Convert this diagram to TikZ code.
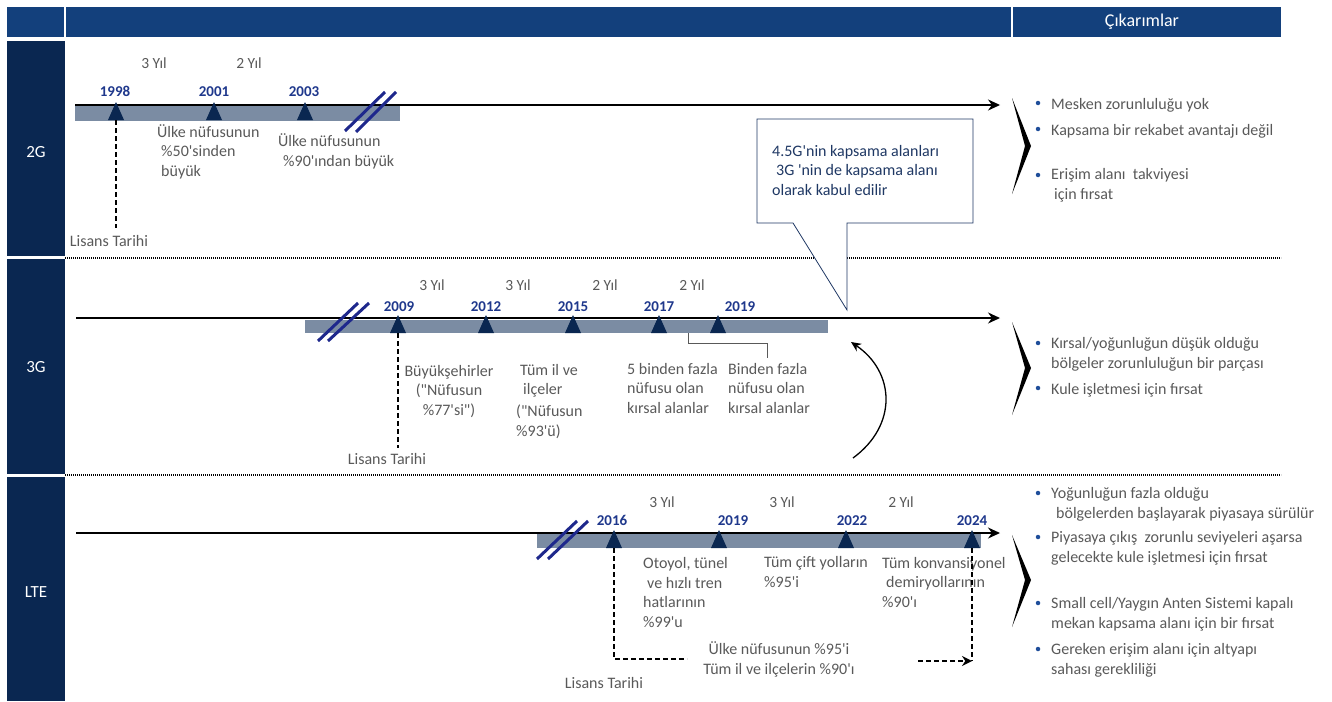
\documentclass[tikz,border=0pt]{standalone}
\usepackage{fontspec}
\setmainfont{Carlito}[Ligatures=TeXOff]
\usetikzlibrary{arrows,arrows.meta,calc}
\usetikzlibrary{positioning}
\definecolor{hdrblue}{RGB}{19,64,124}
\definecolor{navy}{RGB}{10,39,81}
\definecolor{yearblue}{RGB}{31,56,140}
\definecolor{bargray}{RGB}{123,140,163}
\definecolor{txtgray}{RGB}{89,89,89}
\definecolor{breakblue}{RGB}{30,40,140}
\definecolor{calloutblue}{RGB}{31,56,100}
\definecolor{dotblue}{RGB}{31,78,154}
\newcommand\ucgen[1]{% milestone triangle on the bar
  \fill[navy] ($(#1)+(-8,0)$) -- ($(#1)+(8,0)$) -- ($(#1)+(0,-18)$) -- cycle;
}
\newcommand\sevron[3]{% top, apex, bottom of the right chevron
  \fill[black] (1012,#1) -- (1031,#2) -- (1012,#3) -- (1025,#2) -- cycle;
}
\tikzset{
    %Define standard arrow tip
    >={Stealth[length=12pt,width=11pt]},
    % timeline arrow
    zaman/.style={
           ->,
           line width=1.5pt,
           },
    serit/.style={
           fill=bargray,
           draw=none,
           },
    kirik/.style={
           draw=breakblue,
           line width=3pt,
           },
    kesik/.style={
           line width=2pt,
           dash pattern=on 5pt off 3pt,
           },
    nokta/.style={
           line width=1.8pt,
           dash pattern=on 1.2pt off 0.8pt,
           },
    yil/.style={font=\fontsize{15}{18}\selectfont\bfseries, text=yearblue, anchor=base, inner sep=0pt},
    sure/.style={font=\fontsize{15.5}{18}\selectfont, text=txtgray, anchor=base, inner sep=0pt},
    % multi-line texts sit on the baseline of their last line
    aciklama/.style={font=\fontsize{16}{19.5}\selectfont, text=txtgray, align=left, anchor=base west, inner sep=0pt},
    madde/.style={aciklama},
    madnokta/.style={circle, fill=dotblue, inner sep=0pt, minimum size=4.5pt},
    etiket/.style={font=\fontsize{17}{20}\selectfont, text=white},
}
\begin{document}
\begin{tikzpicture}[x=1pt,y=-1pt]
	\useasboundingbox (0,0) rectangle (1332,701);
	% header and left column
	\fill[hdrblue] (7,7) rectangle (1281,37);
	\draw[white, line width=2pt] (65,7) -- (65,37);
	\draw[white, line width=2pt] (1012,7) -- (1012,37);
	\node[etiket, font=\fontsize{18}{21}\selectfont] (h) at (1142,22) {Çıkarımlar};
	\fill[navy] (7,41) rectangle (65,256);
	\fill[navy] (7,259) rectangle (65,474);
	\fill[navy] (7,477) rectangle (65,701);
	\node[etiket] (g2) at (36,152) {2G};
	\node[etiket] (g3) at (36,367) {3G};
	\node[etiket] (g4) at (36,592) {LTE};
	\draw[nokta] (65,258) -- (1281,258);
	\draw[nokta] (65,475) -- (1281,475);
	% 2G
	\coordinate (a0) at (75,105);
	\coordinate (a1) at (1000,105);
	\coordinate (t98) at (116,120);
	\coordinate (t01) at (214,120);
	\coordinate (t03) at (305,120);
	\coordinate (k1) at (116,228);
	\fill[serit] (75,105) rectangle (400,121);
	\draw[zaman] (a0) -- (a1);
	\foreach \t in {t98,t01,t03} {\ucgen{\t}}
	\draw[kirik] (345,131) -- (385,92);
	\draw[kirik] (356,132) -- (396,92);
	\node[yil] (y1) at (115,96) {1998};
	\node[yil] (y2) at (214,96) {2001};
	\node[yil] (y3) at (304,96) {2003};
	\node[sure] (s1) at (154,68) {3 Yıl};
	\node[sure] (s2) at (249,68) {2 Yıl};
	\node[aciklama] (c1) at (157,176) {Ülke nüfusunun\\\hspace{4pt}\%50'sinden\\\hspace{4pt}büyük};
	\node[aciklama] (c2) at (278,166) {Ülke nüfusunun\\\hspace{5pt}\%90'ından büyük};
	\node[aciklama, anchor=base] (l1) at (109,246) {Lisans Tarihi};
	\draw[kesik] (t98) -- (k1);
	% 3G
	\coordinate (b0) at (76,318);
	\coordinate (b1) at (1000,318);
	\coordinate (t09) at (398,333);
	\coordinate (t12) at (486,333);
	\coordinate (t15) at (573,333);
	\coordinate (t17) at (659,333);
	\coordinate (t19) at (718,333);
	\coordinate (k2) at (398,448);
	\fill[serit] (305,320) rectangle (828,333);
	\draw[zaman] (b0) -- (b1);
	\foreach \t in {t09,t12,t15,t17,t19} {\ucgen{\t}}
	\draw[kirik] (318,341) -- (358,303);
	\draw[kirik] (328,341) -- (369,303);
	\node[yil] (y4) at (399,311) {2009};
	\node[yil] (y5) at (486,311) {2012};
	\node[yil] (y6) at (573,311) {2015};
	\node[yil] (y7) at (659,311) {2017};
	\node[yil] (y8) at (740,311) {2019};
	\node[sure] (s3) at (432,290) {3 Yıl};
	\node[sure] (s4) at (518,290) {3 Yıl};
	\node[sure] (s5) at (605,290) {2 Yıl};
	\node[sure] (s6) at (692,290) {2 Yıl};
	\node[aciklama, align=center, anchor=base] (c3) at (449,415) {Büyükşehirler\\("Nüfusun\\\%77'si")};
	\node[aciklama] (c4) at (516,436) {\hspace{4pt}Tüm il ve\\\hspace{7pt}ilçeler\\[2.5pt]("Nüfusun\\\%93'ü)};
	\node[aciklama] (c5) at (627,413) {5 binden fazla\\nüfusu olan\\kırsal alanlar};
	\node[aciklama] (c6) at (728,413) {Binden fazla\\nüfusu olan\\kırsal alanlar};
	\node[aciklama, anchor=base] (l2) at (387,464) {Lisans Tarihi};
	\draw[kesik] (t09) -- (k2);
	\coordinate (p1) at (688,333);
	\coordinate (p2) at (767,358);
	\draw[txtgray, line width=1pt] (p1) -- (688,343) -- (767,343) -- (p2);
	\coordinate (e1) at (853,458);
	\coordinate (e2) at (851,342);
	\draw[-{Stealth[length=10pt,width=9pt]}, line width=1.3pt] (e1) .. controls (898,425) and (895,372) .. (e2);
	% callout
	\draw[draw=calloutblue, fill=white, line width=0.8pt] (757,119) -- (973,119) -- (973,223) -- (847,223) -- (847,310) -- (793,223) -- (757,223) -- cycle;
	\node[aciklama, text=calloutblue] (kb) at (772,195) {4.5G'nin kapsama alanları\\\hspace{4pt}3G 'nin de kapsama alanı\\olarak kabul edilir};
	% LTE
	\coordinate (d0) at (76,533);
	\coordinate (d1) at (1000,533);
	\coordinate (t16) at (614,548);
	\coordinate (u19) at (719,548);
	\coordinate (t22) at (846,548);
	\coordinate (t24) at (972,548);
	\coordinate (k3) at (614,659);
	\coordinate (k4) at (687,659);
	\coordinate (k5) at (972,661);
	\coordinate (k6) at (918,661);
	\fill[serit] (537,534) rectangle (981,548);
	\draw[zaman] (d0) -- (d1);
	\foreach \t in {t16,u19,t22,t24} {\ucgen{\t}}
	\draw[kirik] (537,559) -- (577,521);
	\draw[kirik] (548,559) -- (588,521);
	\node[yil] (y9) at (612,525) {2016};
	\node[yil] (y10) at (733,525) {2019};
	\node[yil] (y11) at (852,525) {2022};
	\node[yil] (y12) at (972,525) {2024};
	\node[sure] (s7) at (662,507) {3 Yıl};
	\node[sure] (s8) at (782,507) {3 Yıl};
	\node[sure] (s9) at (901,507) {2 Yıl};
	\node[aciklama] (c7) at (643,627) {Otoyol, tünel\\\hspace{4pt}ve hızlı tren\\hatlarının\\\%99'u};
	\node[aciklama] (c8) at (764,587) {Tüm çift yolların\\\%95'i};
	\node[aciklama] (c9) at (882,607) {Tüm konvansiyonel\\\hspace{4pt}demiryollarının\\\%90'ı};
	\node[aciklama, align=center, anchor=base] (c10) at (779,674) {Ülke nüfusunun \%95'i\\Tüm il ve ilçelerin \%90'ı};
	\node[aciklama, anchor=base] (l3) at (604,688) {Lisans Tarihi};
	\draw[kesik] (t16) -- (k3) -- (k4);
	\draw[kesik] (t24) -- (k5);
	\draw[kesik, -{Stealth[length=10pt,width=10pt]}] (k6) -- (k5);
	% right column
	\sevron{98}{146}{194}
	\sevron{322}{368}{415}
	\sevron{535}{580}{627}
	\node[madde] (m1) at (1051,109) {Mesken zorunluluğu yok};
	\node[madde] (m2) at (1051,135) {Kapsama bir rekabet avantajı değil};
	\node[madde] (m3) at (1051,199) {Erişim alanı\ \ takviyesi\\\hspace{3pt}için fırsat};
	\node[madde] (m4) at (1051,368) {Kırsal/yoğunluğun düşük olduğu\\bölgeler zorunluluğun bir parçası};
	\node[madde] (m5) at (1051,394) {Kule işletmesi için fırsat};
	\node[madde] (m6) at (1051,518) {Yoğunluğun fazla olduğu\\\hspace{5pt}bölgelerden başlayarak piyasaya sürülür};
	\node[madde] (m7) at (1051,562) {Piyasaya çıkış\ \ zorunlu seviyeleri aşarsa\\gelecekte kule işletmesi için fırsat};
	\node[madde] (m8) at (1051,628) {Small cell/Yaygın Anten Sistemi kapalı\\mekan kapsama alanı için bir fırsat};
	\node[madde] (m9) at (1051,674) {Gereken erişim alanı için altyapı\\sahası gerekliliği};
	\node[madnokta] (n1) at (1038,103) {};
	\node[madnokta] (n2) at (1038,129) {};
	\node[madnokta] (n3) at (1038,175) {};
	\node[madnokta] (n4) at (1038,343) {};
	\node[madnokta] (n5) at (1038,388) {};
	\node[madnokta] (n6) at (1038,493) {};
	\node[madnokta] (n7) at (1038,537) {};
	\node[madnokta] (n8) at (1038,603) {};
	\node[madnokta] (n9) at (1038,649) {};
\end{tikzpicture}
\end{document}
